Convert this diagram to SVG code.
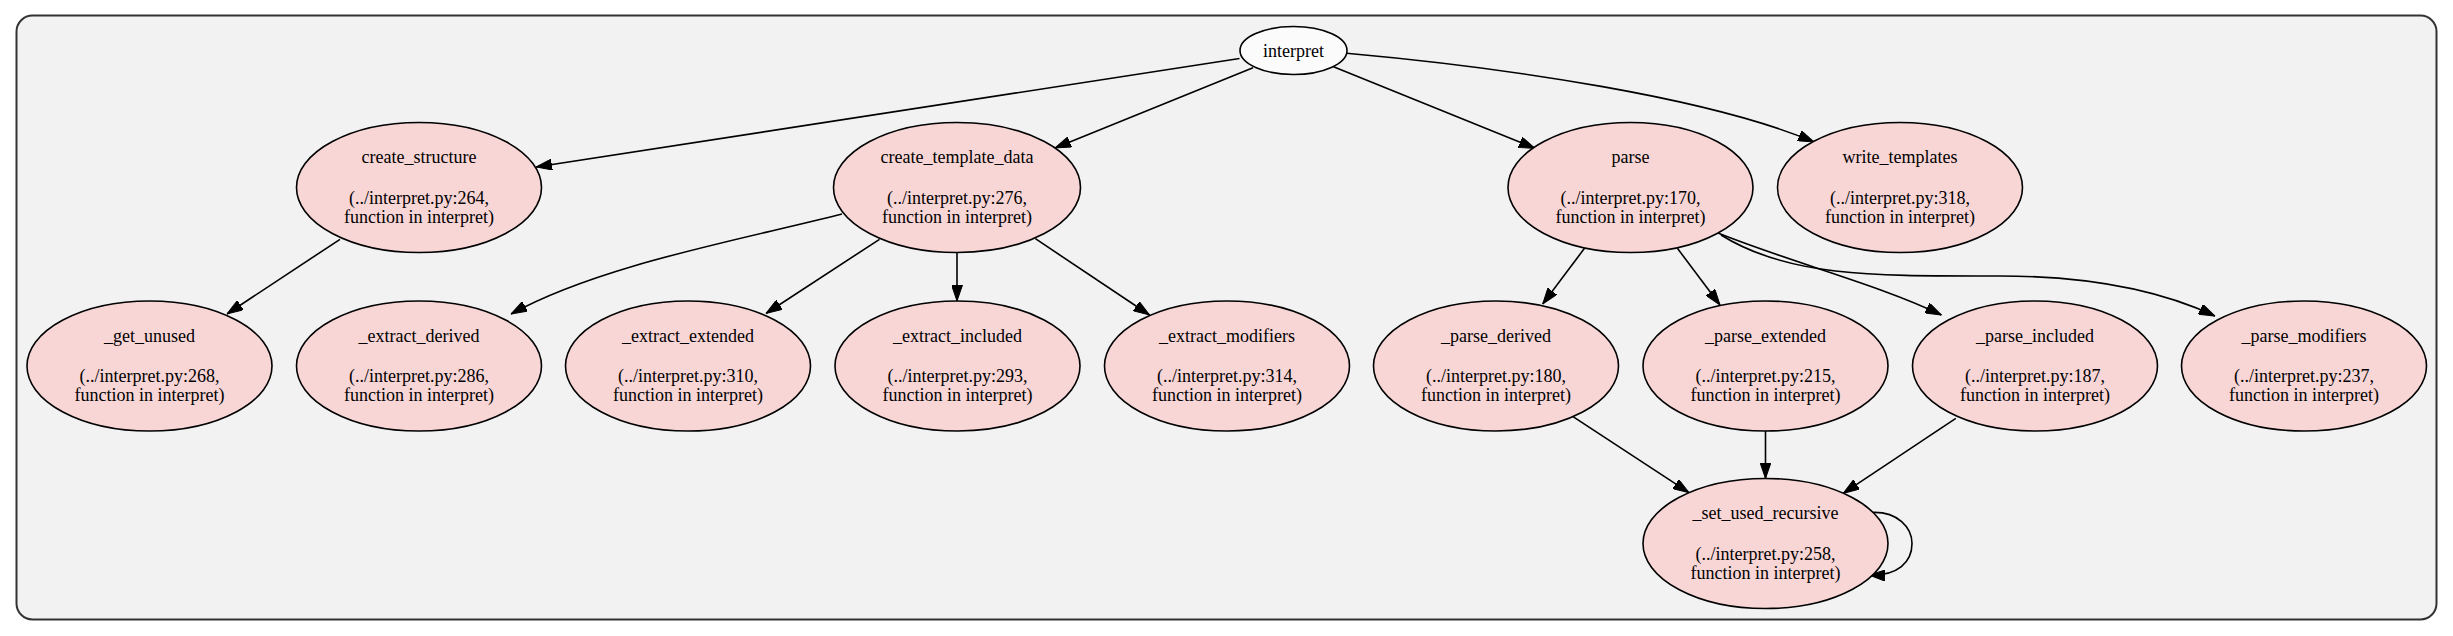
<svg xmlns="http://www.w3.org/2000/svg" width="2453" height="636" viewBox="0 0 2453 636">
<style>
.n ellipse{fill:#f9d6d6;stroke:#000;stroke-width:1.6}
.n text{font-family:"Liberation Serif","Times New Roman",serif;font-size:18px;text-anchor:middle;fill:#000}
.e path{fill:none;stroke:#000;stroke-width:1.6;marker-end:url(#ah)}
</style>
<defs>
<marker id="ah" markerUnits="userSpaceOnUse" viewBox="0 0 16 11" refX="16" refY="5.5" markerWidth="16" markerHeight="11" orient="auto">
<path d="M0,0 L16,5.5 L0,11 z" fill="#000" stroke="#000" stroke-width="1"/>
</marker>
</defs>
<rect x="0" y="0" width="2453" height="636" fill="#fff"/>
<rect id="cluster" x="16.5" y="15.5" width="2420" height="604" rx="16" ry="16" fill="#f2f2f2" stroke="#333" stroke-width="2"/>
<g class="e" id="edges">
<path d="M1239.5,58.5 L536,167"/>
<path d="M1253,67.7 L1055,148"/>
<path d="M1333.5,66.7 L1535,148.3"/>
<path d="M1346.5,53.3 C1510,68 1710,98 1814,142"/>
<path d="M340,239.3 L227,314"/>
<path d="M842,214 C740,240 600,265 511,314"/>
<path d="M879.5,239.3 L766,313.5"/>
<path d="M957,252.5 L957,301"/>
<path d="M1035.4,238.7 L1149.5,315"/>
<path d="M1584.5,248.3 L1542.7,304"/>
<path d="M1677.4,248.3 L1720,305"/>
<path d="M1718,233 C1790,262 1880,285 1941.5,315"/>
<path d="M1721,235 C1790,278 1880,276 2000,276 C2100,276 2170,295 2215,316"/>
<path d="M1573,416.7 L1689,492.7"/>
<path d="M1765.5,431 L1765.5,478.5"/>
<path d="M1955.8,418.3 L1843.2,493.3"/>
<path d="M1871,512.5 C1898,511 1912,528 1912,543.5 C1912,562 1898,576 1869,575"/>
</g>
<g class="n" id="interpret"><ellipse cx="1293.5" cy="50.5" rx="53.5" ry="24" style="fill:#fbfbfb"/><text x="1293.5" y="56.5">interpret</text></g>
<g class="n" id="create_structure"><ellipse cx="419" cy="187.5" rx="122.5" ry="65"/><text x="419" y="163">create_structure</text><text x="419" y="203.5">(../interpret.py:264,</text><text x="419" y="222.5">function in interpret)</text></g>
<g class="n" id="create_template_data"><ellipse cx="957" cy="187.5" rx="123.5" ry="65"/><text x="957" y="163">create_template_data</text><text x="957" y="203.5">(../interpret.py:276,</text><text x="957" y="222.5">function in interpret)</text></g>
<g class="n" id="parse"><ellipse cx="1630.5" cy="187.5" rx="122.5" ry="65"/><text x="1630.5" y="163">parse</text><text x="1630.5" y="203.5">(../interpret.py:170,</text><text x="1630.5" y="222.5">function in interpret)</text></g>
<g class="n" id="write_templates"><ellipse cx="1900" cy="187.5" rx="122.5" ry="65"/><text x="1900" y="163">write_templates</text><text x="1900" y="203.5">(../interpret.py:318,</text><text x="1900" y="222.5">function in interpret)</text></g>
<g class="n" id="_get_unused"><ellipse cx="149.5" cy="366" rx="122.5" ry="65"/><text x="149.5" y="341.5">_get_unused</text><text x="149.5" y="382">(../interpret.py:268,</text><text x="149.5" y="401">function in interpret)</text></g>
<g class="n" id="_extract_derived"><ellipse cx="419" cy="366" rx="122.5" ry="65"/><text x="419" y="341.5">_extract_derived</text><text x="419" y="382">(../interpret.py:286,</text><text x="419" y="401">function in interpret)</text></g>
<g class="n" id="_extract_extended"><ellipse cx="688" cy="366" rx="122.5" ry="65"/><text x="688" y="341.5">_extract_extended</text><text x="688" y="382">(../interpret.py:310,</text><text x="688" y="401">function in interpret)</text></g>
<g class="n" id="_extract_included"><ellipse cx="957.5" cy="366" rx="122.5" ry="65"/><text x="957.5" y="341.5">_extract_included</text><text x="957.5" y="382">(../interpret.py:293,</text><text x="957.5" y="401">function in interpret)</text></g>
<g class="n" id="_extract_modifiers"><ellipse cx="1227" cy="366" rx="122.5" ry="65"/><text x="1227" y="341.5">_extract_modifiers</text><text x="1227" y="382">(../interpret.py:314,</text><text x="1227" y="401">function in interpret)</text></g>
<g class="n" id="_parse_derived"><ellipse cx="1496" cy="366" rx="122.5" ry="65"/><text x="1496" y="341.5">_parse_derived</text><text x="1496" y="382">(../interpret.py:180,</text><text x="1496" y="401">function in interpret)</text></g>
<g class="n" id="_parse_extended"><ellipse cx="1765.5" cy="366" rx="122.5" ry="65"/><text x="1765.5" y="341.5">_parse_extended</text><text x="1765.5" y="382">(../interpret.py:215,</text><text x="1765.5" y="401">function in interpret)</text></g>
<g class="n" id="_parse_included"><ellipse cx="2035" cy="366" rx="122.5" ry="65"/><text x="2035" y="341.5">_parse_included</text><text x="2035" y="382">(../interpret.py:187,</text><text x="2035" y="401">function in interpret)</text></g>
<g class="n" id="_parse_modifiers"><ellipse cx="2304" cy="366" rx="122.5" ry="65"/><text x="2304" y="341.5">_parse_modifiers</text><text x="2304" y="382">(../interpret.py:237,</text><text x="2304" y="401">function in interpret)</text></g>
<g class="n" id="_set_used_recursive"><ellipse cx="1765.5" cy="543.5" rx="122.5" ry="65"/><text x="1765.5" y="519">_set_used_recursive</text><text x="1765.5" y="559.5">(../interpret.py:258,</text><text x="1765.5" y="578.5">function in interpret)</text></g>
</svg>
